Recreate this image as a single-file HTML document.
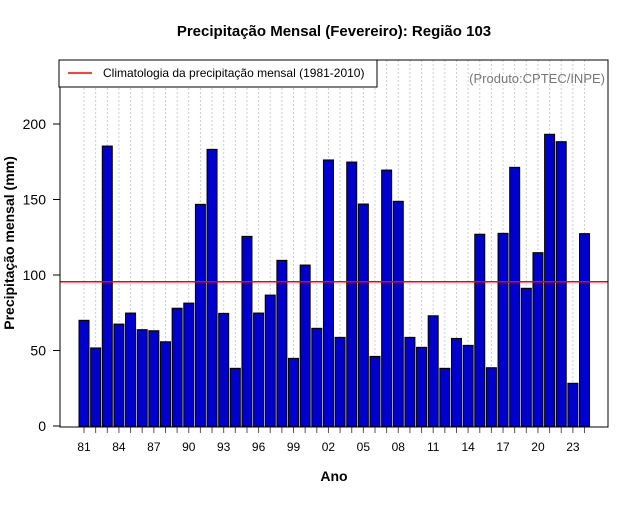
<!DOCTYPE html>
<html><head><meta charset="utf-8"><style>
body{margin:0;background:#fff;font-family:"Liberation Sans",sans-serif}
svg text{font-family:"Liberation Sans",sans-serif}
</style></head><body>
<svg id="c" width="640" height="500">
<text x="334" y="36" text-anchor="middle" font-size="15" font-weight="bold">Precipitação Mensal (Fevereiro): Região 103</text>
<text x="334" y="481" text-anchor="middle" font-size="14" font-weight="bold">Ano</text>
<text x="14" y="243" text-anchor="middle" font-size="14" font-weight="bold" transform="rotate(-90 14 243)">Precipitação mensal (mm)</text>
<g id="grid"></g><g id="bars"></g><g id="axes"></g>
<line id="clim" stroke="#ff0000" stroke-width="1.5"/>
<rect x="60" y="60" width="548" height="367" fill="none" stroke="#000"/>
<g>
<rect x="59" y="60" width="318" height="27" fill="#fff" stroke="#000"/>
<line x1="68" y1="73" x2="92" y2="73" stroke="#ff0000" stroke-width="1.5"/>
<text x="103" y="77" font-size="12">Climatologia da precipitação mensal (1981-2010)</text>
</g>
<text x="605" y="83" text-anchor="end" font-size="13" fill="#777">(Produto:CPTEC/INPE)</text>
</svg>
<script>
const years=[1981,1982,1983,1984,1985,1986,1987,1988,1989,1990,1991,1992,1993,1994,1995,1996,1997,1998,1999,2000,2001,2002,2003,2004,2005,2006,2007,2008,2009,2010,2011,2012,2013,2014,2015,2016,2017,2018,2019,2020,2021,2022,2023,2024];
const precip=[70,51.7,185.4,67.5,74.8,63.8,63.1,55.8,78,81.4,146.8,183.2,74.6,38.2,125.6,74.8,86.7,109.7,44.8,106.6,64.7,176.2,58.7,174.8,147,46.1,169.5,148.8,58.7,52.1,73,38.2,58,53.4,127,38.6,127.6,171.3,91.2,114.8,193.2,188.3,28.3,127.4];
const climatology=95.5;
const yTicks=[0,50,100,150,200];
const NS='http://www.w3.org/2000/svg';
const x=y=>84+(y-1981)*11.64;
const yS=v=>426-v*1.51;
function mk(t,a,p){const e=document.createElementNS(NS,t);for(const k in a)e.setAttribute(k,a[k]);p.appendChild(e);return e;}
const grid=document.getElementById('grid'),bars=document.getElementById('bars'),axes=document.getElementById('axes');
years.forEach((yr,i)=>{
 const g=mk('line',{x1:x(yr),x2:x(yr),y1:60,y2:427,stroke:'#ccc','stroke-dasharray':'2,2'},grid);
 
 
 const b=mk('rect',{x:x(yr)-5,y:yS(precip[i]),width:10,height:yS(0)-yS(precip[i]),fill:'#0000cc',stroke:'#000','stroke-width':1},bars);
 
 
 const t=mk('line',{x1:x(yr),x2:x(yr),y1:427,y2:433,stroke:'#555'},axes);
 
 
 if((yr-1981)%3===0){
  const l=mk('text',{x:x(yr),y:451,'text-anchor':'middle','font-size':12},axes);
  l.textContent=String(yr%100).padStart(2,'0');
  
  
 }
});
yTicks.forEach(v=>{
 const t=mk('line',{x1:53,x2:60,y1:yS(v),y2:yS(v),stroke:'#000'},axes);
 
 
 const l=mk('text',{x:46,y:yS(v)+5,'text-anchor':'end','font-size':14},axes);
 l.textContent=v;
 
 
});
const c=document.getElementById('clim');
c.setAttribute('x1',60);c.setAttribute('x2',608);c.setAttribute('y1',yS(climatology));c.setAttribute('y2',yS(climatology));
</script>
</body></html>
